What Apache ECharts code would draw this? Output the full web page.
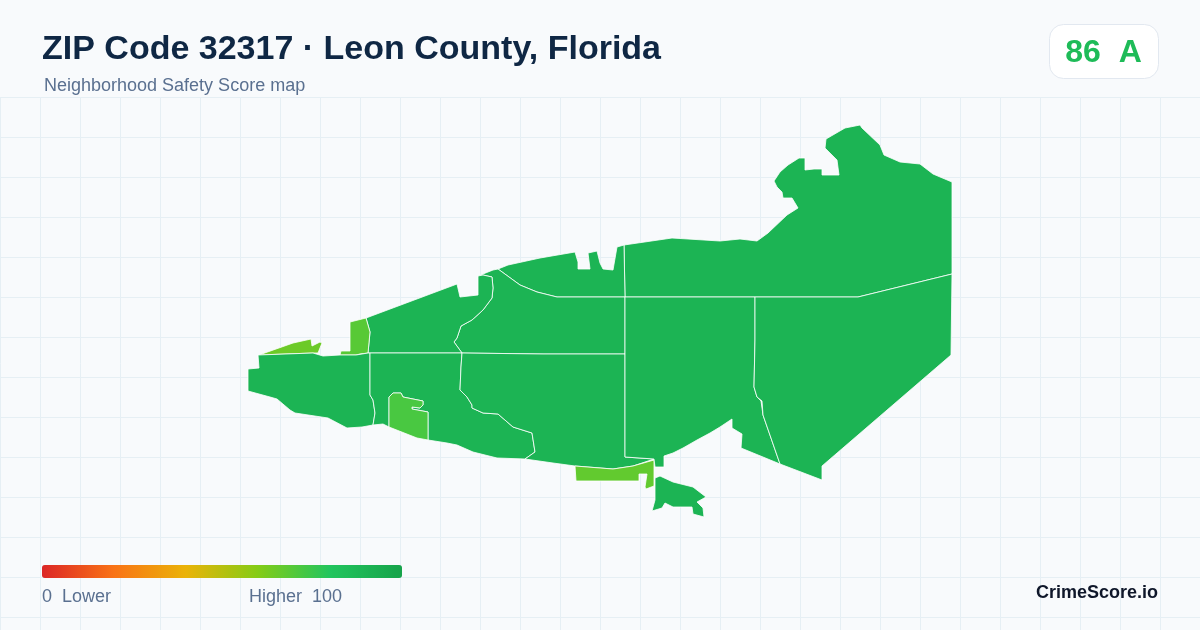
<!DOCTYPE html>
<html><head><meta charset="utf-8">
<style>html,body{margin:0;padding:0;background:#f8fafc}#c{width:1200px;height:630px}</style>
<script src="https://cdn.jsdelivr.net/npm/echarts@6/dist/echarts.min.js"></script>
</head><body><div id="c"></div>
<script>
// Region boundaries (x east, y south, map units)
const regionNorthEast = [[624,245],[672,238],[720,241],[740,239],[757,241],[768,233],[787,215],[798,208],[792,198],[783,198],[782,192],[777,187],[774,181],[780,172],[788,165],[799,158],[805,158],[805,170],[814,169],[822,169],[822,175],[839,175],[837,160],[825,148],[826,139],[845,128],[860,125],[862,128],[880,145],[884,155],[900,162],[920,164],[933,174],[952,182],[952,274],[858,297],[755,297],[625,297]];
const regionNorthStrip = [[498,269],[508,265],[540,258],[575,252],[578,262],[578,269],[590,269],[588,253],[597,251],[600,263],[603,269],[613,270],[617,247],[624,245],[625,297],[557,297],[537,292],[520,285]];
const regionCentreNorth = [[498,269],[520,285],[537,292],[557,297],[625,297],[625,354],[543,354],[462,353],[454,342],[457,338],[461,326],[472,320],[483,310],[492,298],[493,288],[492,277],[483,275],[478,276],[493,270]];
const regionWestNorth = [[366,318],[457,284],[460,297],[478,295],[478,276],[483,275],[492,277],[493,288],[492,298],[483,310],[472,320],[461,326],[457,338],[454,342],[462,353],[370,353],[368,353],[370,332]];
const regionWestTab = [[366,318],[370,332],[368,353],[360,354],[356,355],[340,355],[341,351],[350,351],[350,322]];
const regionFarWestTab = [[259,355],[293,343],[311,339],[312,346],[320,342],[322,343],[318,353],[313,353]];
const regionFarWest = [[258,355],[313,353],[323,356],[340,355],[356,355],[368,353],[370,353],[370,395],[373,400],[375,413],[373,425],[362,427],[347,428],[328,418],[295,413],[290,410],[277,399],[270,397],[248,391],[248,369],[259,368]];
const regionMiddle = [[370,353],[462,353],[461,367],[460,390],[467,397],[472,405],[472,408],[483,413],[498,414],[513,427],[532,433],[535,452],[525,459],[497,458],[473,452],[457,445],[447,443],[428,440],[428,412],[412,409],[412,407],[420,408],[423,405],[423,401],[403,397],[401,393],[393,393],[389,397],[389,427],[383,424],[373,425],[375,413],[373,400],[370,395]];
const regionEnclave = [[389,397],[393,393],[401,393],[403,397],[423,401],[423,405],[420,408],[412,407],[412,409],[428,412],[428,440],[417,438],[389,427]];
const regionCentreSouth = [[462,353],[543,354],[625,354],[625,418],[625,457],[654,459],[633,466],[613,469],[575,466],[553,463],[525,459],[535,452],[532,433],[513,427],[498,414],[483,413],[472,408],[472,405],[467,397],[460,390],[461,367]];
const regionSouthBand = [[575,466],[613,469],[633,466],[654,460],[654,486],[646,489],[645,487],[647,474],[639,474],[639,481],[576,481]];
const regionEastColumn = [[625,297],[755,297],[755,340],[754,387],[757,397],[761,401],[762,401],[763,415],[780,464],[741,448],[742,434],[732,428],[732,419],[720,427],[710,433],[697,440],[683,448],[673,453],[664,456],[664,467],[655,467],[654,459],[625,457],[625,418],[625,354]];
const regionSouthEast = [[755,297],[858,297],[952,274],[951,355],[822,466],[822,480],[780,464],[763,415],[762,401],[761,401],[757,397],[754,387],[755,340]];
const regionIsland = [[655,478],[660,476],[673,482],[693,487],[706,497],[697,502],[703,508],[704,517],[693,514],[692,507],[673,507],[665,503],[662,508],[652,511],[655,500]];

const regionNames = ['North East','North Strip','Centre North','West North','West Tab','Far West Tab','Far West','Middle','Enclave','Centre South','South Band','East Column','South East','Island'];
const regionShapes = [regionNorthEast,regionNorthStrip,regionCentreNorth,regionWestNorth,regionWestTab,regionFarWestTab,regionFarWest,regionMiddle,regionEnclave,regionCentreSouth,regionSouthBand,regionEastColumn,regionSouthEast,regionIsland];
const regionScores = [90,90,90,90,69,65,90,90,72,90,67,90,90,90];
const scaleColors = ['#dc2626','#f97316','#eab308','#84cc16','#22c55e','#16a34a'];

const titleText = 'ZIP Code 32317 · Leon County, Florida';
const subtitleText = 'Neighborhood Safety Score map';
const badgeText = '86  A';
const lowLabel = '0  Lower';
const highLabel = 'Higher  100';
const brandText = 'CrimeScore.io';

const geo = {type:'FeatureCollection',features:regionNames.map((n,i)=>{
  const ring = regionShapes[i].map(p=>[p[0],-p[1]]);
  ring.push(ring[0]);
  return {type:'Feature',properties:{name:n},geometry:{type:'Polygon',coordinates:[ring]}};
})};
echarts.registerMap('zip32317',geo);

const chart = echarts.init(document.getElementById('c'),null,{renderer:'canvas'});
chart.setOption({
  backgroundColor:'#f8fafc',
  animation:false,
  title:[
    {text:titleText,left:42,top:33,padding:0,textStyle:{fontFamily:'Liberation Sans',fontSize:34,fontWeight:'bold',color:'#0f2744'}},
    {text:subtitleText,left:44,top:77,padding:0,textStyle:{fontFamily:'Liberation Sans',fontSize:18,fontWeight:'normal',color:'#5a7090'}}
  ],
  grid:{left:0,width:1200,top:97,height:533,show:false},
  xAxis:{type:'value',min:0,max:1200,interval:40,axisLine:{show:false},axisTick:{show:false},axisLabel:{show:false},splitLine:{show:true,lineStyle:{color:'#e6eff4',width:1}}},
  yAxis:{type:'value',inverse:true,min:0,max:533,interval:40,axisLine:{show:false},axisTick:{show:false},axisLabel:{show:false},splitLine:{show:true,showMaxLine:false,lineStyle:{color:'#e6eff4',width:1}}},
  visualMap:{type:'continuous',seriesIndex:0,min:0,max:100,orient:'horizontal',left:42,top:565,padding:0,borderRadius:0,itemWidth:13,itemHeight:360,calculable:false,text:null,showLabel:false,hoverLink:false,inRange:{color:scaleColors},textStyle:{fontSize:0}},
  series:[{type:'map',map:'zip32317',aspectScale:1,layoutCenter:[600,321],layoutSize:704,roam:false,silent:true,z:3,
    label:{show:false},emphasis:{disabled:true},select:{disabled:true},
    itemStyle:{borderColor:'#ffffff',borderWidth:0.8},
    data:regionNames.map((n,i)=>({name:n,value:regionScores[i]}))}],
  graphic:[
    {type:'rect',shape:{x:1049.5,y:24.5,width:109,height:54,r:14},style:{fill:'#ffffff',stroke:'#e2e8f0',lineWidth:1},z:5},
    {type:'text',x:1103.5,y:53,z:6,style:{text:badgeText,fontFamily:'Liberation Sans',fontSize:32,fontWeight:'bold',fill:'#1ebb58',align:'center',verticalAlign:'middle'}},
    {type:'text',x:42,y:597,z:6,style:{text:lowLabel,fontFamily:'Liberation Sans',fontSize:18,fill:'#5a7090',align:'left',verticalAlign:'middle'}},
    {type:'text',x:249,y:597,z:6,style:{text:highLabel,fontFamily:'Liberation Sans',fontSize:18,fill:'#5a7090',align:'left',verticalAlign:'middle'}},
    {type:'text',x:1158,y:593,z:6,style:{text:brandText,fontFamily:'Liberation Sans',fontSize:18,fontWeight:'bold',fill:'#0f172a',align:'right',verticalAlign:'middle'}}
  ]
});
</script></body></html>
